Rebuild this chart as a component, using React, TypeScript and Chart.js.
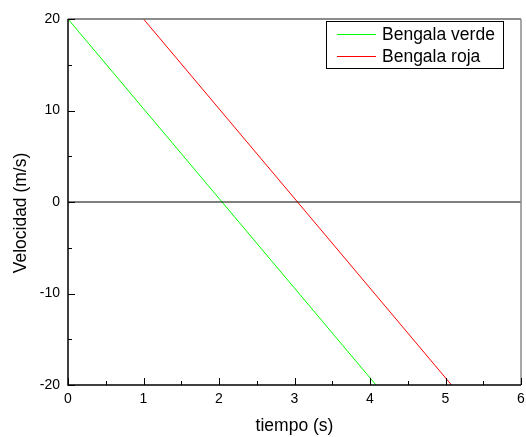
import React, { useEffect, useRef } from "react";
import { Chart, registerables } from "chart.js";

Chart.register(...registerables);

const tiempoVerde = [0, 4.08];
const velocidadVerde = [20, -20];
const tiempoRoja = [1, 5.08];
const velocidadRoja = [20, -20];
const lineaCero = [0, 0];
const tiempoCero = [0, 6];
const xTicks = [0, 1, 2, 3, 4, 5, 6];
const yTicks = [-20, -10, 0, 10, 20];
const xMinor = [0.5, 1.5, 2.5, 3.5, 4.5, 5.5];
const yMinor = [-15, -5, 5, 15];
const leyenda = ["Bengala verde", "Bengala roja"];
const colores = ["#00ff00", "#ff0000"];

const FONT = "'Liberation Sans', Arial, sans-serif";

const framePlugin = {
  id: "frame",
  afterDatasetsDraw(chart: any) {
    const { ctx, chartArea: a, scales } = chart;
    const x = scales.x;
    const y = scales.y;
    ctx.save();
    ctx.strokeStyle = "#666";
    ctx.lineWidth = 1.5;
    ctx.beginPath();
    ctx.moveTo(a.left, a.top);
    ctx.lineTo(a.right, a.top);
    ctx.stroke();
    ctx.strokeStyle = "#8a8a8a";
    ctx.beginPath();
    ctx.moveTo(a.right, a.top);
    ctx.lineTo(a.right, a.bottom);
    ctx.stroke();
    ctx.strokeStyle = "#000";
    ctx.lineWidth = 1.5;
    ctx.beginPath();
    ctx.moveTo(a.left, a.top);
    ctx.lineTo(a.left, a.bottom);
    ctx.lineTo(a.right, a.bottom);
    ctx.stroke();
    ctx.lineWidth = 1;
    ctx.beginPath();
    xTicks.forEach((v) => {
      const px = Math.round(x.getPixelForValue(v)) + 0.5;
      ctx.moveTo(px, a.bottom);
      ctx.lineTo(px, a.bottom - 7);
    });
    xMinor.forEach((v) => {
      const px = Math.round(x.getPixelForValue(v)) + 0.5;
      ctx.moveTo(px, a.bottom);
      ctx.lineTo(px, a.bottom - 4);
    });
    yTicks.forEach((v) => {
      const py = Math.round(y.getPixelForValue(v)) + 0.5;
      ctx.moveTo(a.left, py);
      ctx.lineTo(a.left + 7, py);
    });
    yMinor.forEach((v) => {
      const py = Math.round(y.getPixelForValue(v)) + 0.5;
      ctx.moveTo(a.left, py);
      ctx.lineTo(a.left + 4, py);
    });
    ctx.stroke();
    ctx.restore();
  },
  afterDraw(chart: any) {
    const { ctx } = chart;
    ctx.save();
    ctx.fillStyle = "#fff";
    ctx.fillRect(326.5, 21.5, 177, 47);
    ctx.strokeStyle = "#000";
    ctx.lineWidth = 1;
    ctx.strokeRect(326.5, 21.5, 177, 47);
    ctx.font = `17.5px ${FONT}`;
    ctx.textBaseline = "middle";
    ctx.textAlign = "left";
    leyenda.forEach((t, i) => {
      const yy = 34.5 + i * 22;
      ctx.strokeStyle = colores[i];
      ctx.beginPath();
      ctx.moveTo(337, yy);
      ctx.lineTo(376, yy);
      ctx.stroke();
      ctx.fillStyle = "#000";
      ctx.fillText(t, 382, yy + 1);
    });
    ctx.translate(21, 213);
    ctx.rotate(-Math.PI / 2);
    ctx.textAlign = "center";
    ctx.fillText("Velocidad (m/s)", 0, 0);
    ctx.restore();
  },
};

export default function App() {
  const ref = useRef<HTMLCanvasElement>(null);
  useEffect(() => {
    document.body.style.margin = "0";
    const toPts = (xs: number[], ys: number[]) => xs.map((v, i) => ({ x: v, y: ys[i] }));
    const chart = new Chart(ref.current!, {
      type: "scatter",
      data: {
        datasets: [
          {
            label: "cero",
            data: toPts(tiempoCero, lineaCero),
            showLine: true,
            borderColor: "#000",
            borderWidth: 1.2,
            pointRadius: 0,
          },
          {
            label: leyenda[0],
            data: toPts(tiempoVerde, velocidadVerde),
            showLine: true,
            borderColor: colores[0],
            borderWidth: 1,
            pointRadius: 0,
          },
          {
            label: leyenda[1],
            data: toPts(tiempoRoja, velocidadRoja),
            showLine: true,
            borderColor: colores[1],
            borderWidth: 1,
            pointRadius: 0,
          },
        ],
      },
      options: {
        responsive: false,
        animation: false,
        layout: { padding: { top: 19, right: 0, left: 0, bottom: 0 } },
        plugins: { legend: { display: false }, tooltip: { enabled: false } },
        scales: {
          x: {
            type: "linear",
            min: 0,
            max: 6,
            grid: { display: false, drawTicks: false },
            border: { display: false },
            afterFit: (s: any) => {
              s.height = 52;
              s.paddingRight = 5;
            },
            afterBuildTicks: (s: any) => {
              s.ticks = xTicks.map((v) => ({ value: v }));
            },
            ticks: {
              padding: 6,
              color: "#000",
              font: { family: FONT, size: 14 },
              maxRotation: 0,
            },
            title: {
              display: true,
              text: "tiempo (s)",
              color: "#000",
              font: { family: FONT, size: 17.5 },
              padding: { top: 0, bottom: 0 },
            },
          },
          y: {
            type: "linear",
            min: -20,
            max: 20,
            grid: { display: false, drawTicks: false },
            border: { display: false },
            afterFit: (s: any) => {
              s.width = 68;
            },
            afterBuildTicks: (s: any) => {
              s.ticks = yTicks.map((v) => ({ value: v }));
            },
            ticks: {
              padding: 8,
              color: "#000",
              font: { family: FONT, size: 14 },
            },
          },
        },
      },
      plugins: [framePlugin],
    } as any);
    return () => chart.destroy();
  }, []);
  return (
    <div style={{ position: "absolute", left: 0, top: 0, width: 526, height: 437 }}>
      <canvas ref={ref} width={526} height={437} />
    </div>
  );
}
